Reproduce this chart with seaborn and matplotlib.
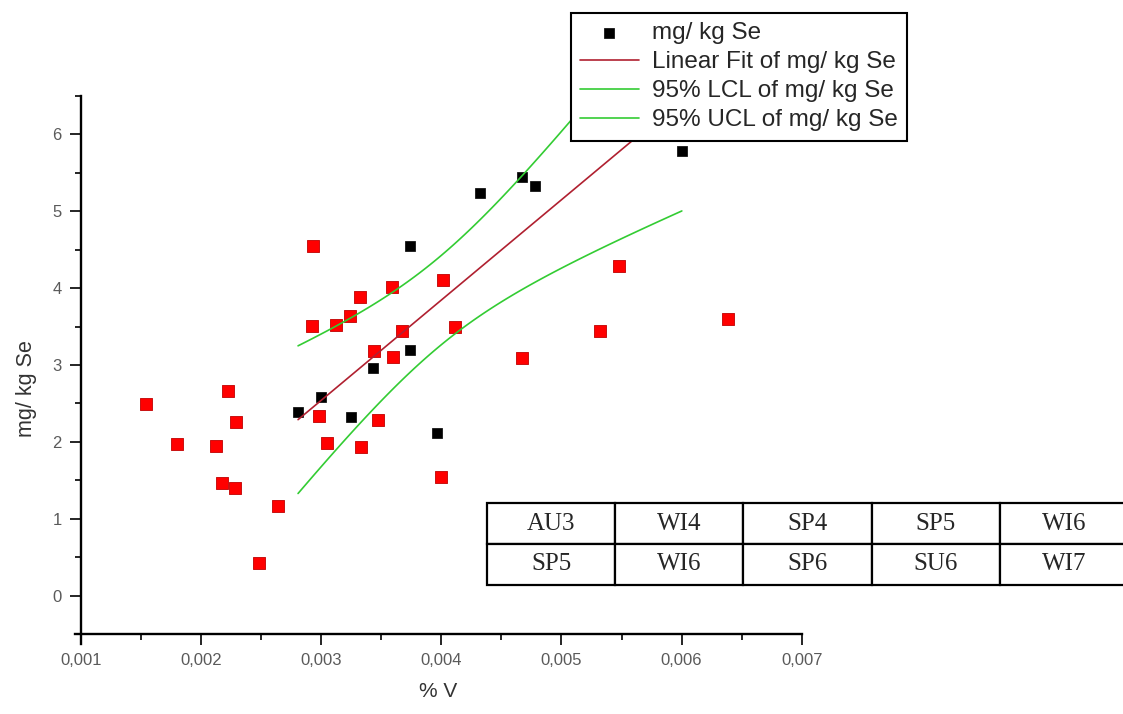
import numpy as np
import pandas as pd
import seaborn as sns
import matplotlib.pyplot as plt
from matplotlib.ticker import FuncFormatter, MultipleLocator

# red points (other samples), % V and mg/kg Se
red_x = [0.00154, 0.00222, 0.00229, 0.00180, 0.00212, 0.00217, 0.00228, 0.00264,
         0.00248, 0.00298, 0.00305, 0.00293, 0.00401, 0.00359, 0.00332, 0.00324,
         0.00292, 0.00312, 0.00367, 0.00411, 0.00344, 0.00360, 0.00347, 0.00333,
         0.00400, 0.00467, 0.00532, 0.00548, 0.00639]
red_y = [2.49, 2.66, 2.26, 1.97, 1.94, 1.46, 1.40, 1.16,
         0.42, 2.33, 1.99, 4.55, 4.11, 4.02, 3.89, 3.64,
         3.51, 3.52, 3.44, 3.49, 3.18, 3.10, 2.29, 1.93,
         1.54, 3.09, 3.44, 4.29, 3.60]

# black points (fitted series)
blk_x = [0.002807, 0.002998, 0.003248, 0.003431, 0.003739, 0.003739,
         0.003964, 0.004322, 0.004672, 0.004780, 0.006002]
blk_y = [2.39, 2.59, 2.32, 2.96, 3.19, 4.55, 2.11, 5.24, 5.45, 5.33, 5.78]

table_rows = [["AU3", "WI4", "SP4", "SP5", "WI6"],
              ["SP5", "WI6", "SP6", "SU6", "WI7"]]

T_975_DF9 = 2.262  # student t, 95% two sided, n-2 = 9

sns.set_style("ticks")
plt.rcParams['font.family'] = ['Liberation Sans', 'DejaVu Sans']

fig = plt.figure(figsize=(11.23, 7.14), dpi=100)
ax = fig.add_axes([75 / 1123, 1 - 644 / 714, (801.7 - 75) / 1123, (644 - 96) / 714])

# linear fit + confidence limits of the black series
bx = np.array(blk_x)
by = np.array(blk_y)
n = len(bx)
slope, icpt = np.polyfit(bx, by, 1)
xs = np.linspace(bx.min(), bx.max(), 100)
yfit = slope * xs + icpt
resid = by - (slope * bx + icpt)
s = np.sqrt((resid ** 2).sum() / (n - 2))
sxx = ((bx - bx.mean()) ** 2).sum()
half = T_975_DF9 * s * np.sqrt(1 / n + (xs - bx.mean()) ** 2 / sxx)

sns.scatterplot(x=red_x, y=red_y, ax=ax, marker='s', s=64, color='#ff0000',
                edgecolor='#c00000', linewidth=0.6, zorder=2)
sns.scatterplot(x=blk_x, y=blk_y, ax=ax, marker='s', s=52, color='black',
                edgecolor='black', linewidth=0.5, zorder=3, label='mg/ kg Se')
sns.lineplot(x=xs, y=yfit, ax=ax, color='#b02030', linewidth=1.2, zorder=4,
             label='Linear Fit of mg/ kg Se')
sns.lineplot(x=xs, y=yfit - half, ax=ax, color='#33cc33', linewidth=1.2, zorder=4,
             label='95% LCL of mg/ kg Se')
sns.lineplot(x=xs, y=yfit + half, ax=ax, color='#33cc33', linewidth=1.2, zorder=4,
             label='95% UCL of mg/ kg Se')

ax.set_xlim(0.00095, 0.007)
ax.set_ylim(-0.63, 6.5)
ax.spines['left'].set_position(('data', 0.001))
ax.spines['bottom'].set_position(('data', -0.5))
for side in ['top', 'right']:
    ax.spines[side].set_visible(False)
for side in ['left', 'bottom']:
    ax.spines[side].set_linewidth(1.7)
    ax.spines[side].set_color('black')

ax.xaxis.set_major_locator(MultipleLocator(0.001))
ax.xaxis.set_minor_locator(MultipleLocator(0.0005))
ax.yaxis.set_major_locator(MultipleLocator(1))
ax.yaxis.set_minor_locator(MultipleLocator(0.5))
ax.xaxis.set_major_formatter(FuncFormatter(lambda v, p: f"{v:.3f}".replace('.', ',')))
ax.yaxis.set_major_formatter(FuncFormatter(lambda v, p: f"{v:.0f}"))
ax.tick_params(which='major', direction='out', length=8, width=1.2, colors='black',
               labelcolor='#5a5a5a', labelsize=12, pad=6)
ax.tick_params(which='minor', direction='out', length=4, width=1.2, colors='black')

ax.set_xlabel('% V', fontsize=15, color='#333333', labelpad=10)
ax.set_ylabel('mg/ kg Se', fontsize=15.5, color='#333333')
ax.yaxis.set_label_coords(-0.052, 0.467)

leg = ax.legend(loc='upper left', bbox_to_anchor=(571 / 1123, 1 - 13 / 714),
                bbox_transform=fig.transFigure, fontsize=17.5, frameon=True,
                fancybox=False, borderaxespad=0, handlelength=2.4,
                handletextpad=0.55, labelspacing=0.29, borderpad=0.38)
frame = leg.get_frame()
frame.set_edgecolor('black')
frame.set_linewidth(1.5)
frame.set_facecolor('white')
frame.set_alpha(1)

# season table in the lower right corner
tax = fig.add_axes([487 / 1123, 1 - 585 / 714, 641 / 1123, 82 / 714])
tax.axis('off')
tbl = tax.table(cellText=table_rows, cellLoc='center', bbox=[0, 0, 1, 1])
tbl.auto_set_font_size(False)
for (r, c), cell in tbl.get_celld().items():
    cell.set_linewidth(1.6)
    cell.set_edgecolor('black')
    cell.get_text().set_fontsize(18)
    cell.get_text().set_fontfamily('Liberation Serif')

fig.savefig('out.png', dpi=100)
